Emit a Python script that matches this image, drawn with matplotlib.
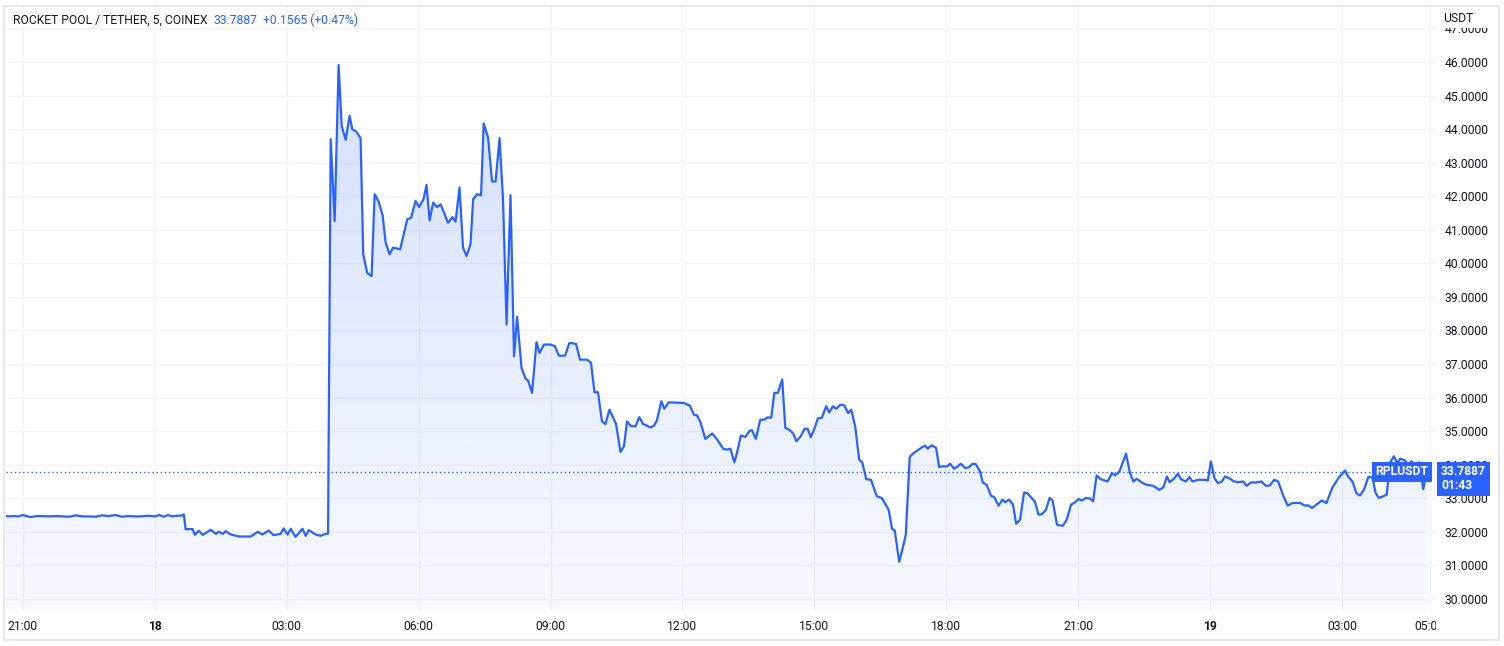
import matplotlib
matplotlib.use("Agg")
import matplotlib.pyplot as plt
import numpy as np
from matplotlib.patches import Rectangle
from matplotlib.transforms import blended_transform_factory, Bbox, TransformedBbox

# ---- data: time in hours since 17th 00:00, price in USDT ----
hours = [
    20.60, 20.70, 20.80, 20.90, 21.00, 21.10, 21.20, 21.30, 21.45, 21.60, 21.75, 21.90,
    22.05, 22.20, 22.35, 22.50, 22.65, 22.80, 22.95, 23.10, 23.25, 23.40, 23.55, 23.70,
    23.85, 24.00, 24.10, 24.20, 24.30, 24.40, 24.50, 24.60, 24.66,
    24.70, 24.86, 24.91, 25.00, 25.09, 25.27, 25.39, 25.45, 25.55, 25.61, 25.73, 25.91,
    26.18, 26.34, 26.45, 26.59, 26.70, 26.86, 26.93, 27.02, 27.09, 27.20, 27.36, 27.43,
    27.50, 27.66, 27.77, 27.84, 27.94,
    28.00, 28.09, 28.18, 28.25, 28.34, 28.43, 28.49, 28.59, 28.68, 28.74, 28.83, 28.93,
    29.00, 29.09, 29.18, 29.25, 29.34, 29.42, 29.58, 29.74, 29.83, 29.93, 30.01, 30.11,
    30.18, 30.25, 30.33, 30.42, 30.50, 30.67, 30.77, 30.84, 30.93, 31.01, 31.09, 31.18,
    31.24, 31.33, 31.42, 31.48, 31.58, 31.67, 31.75, 31.84, 31.92, 32.00, 32.09, 32.17,
    32.24, 32.34, 32.43, 32.49, 32.58, 32.68, 32.75, 32.85, 33.00, 33.10, 33.19, 33.33,
    33.43, 33.58, 33.67, 33.83, 33.92, 34.00, 34.08, 34.17, 34.25, 34.34, 34.42, 34.49,
    34.59, 34.67, 34.74, 34.82, 34.93, 35.02, 35.10, 35.27, 35.35, 35.42, 35.52, 35.59,
    35.69, 36.03, 36.17, 36.26, 36.33, 36.41, 36.52, 36.68, 36.79, 36.93, 37.02, 37.09,
    37.18, 37.24, 37.33, 37.43, 37.53, 37.58, 37.67, 37.77, 37.85, 37.94, 38.02, 38.09,
    38.17, 38.27, 38.34, 38.44, 38.52, 38.59, 38.68, 38.78, 38.85, 38.92, 39.01, 39.08,
    39.17, 39.27, 39.34, 39.42, 39.50, 39.59, 39.68, 39.77, 39.84, 39.93, 40.02, 40.09,
    40.18, 40.29, 40.33, 40.42, 40.54, 40.60, 40.69, 40.77, 40.83, 40.93, 41.01, 41.08,
    41.17, 41.26, 41.37, 41.45, 41.52, 41.58, 41.67, 41.77, 41.84, 41.90, 42.02, 42.09,
    42.18, 42.26, 42.33, 42.43, 42.51, 42.60, 42.67, 42.77, 42.83, 42.92, 43.02, 43.09,
    43.19, 43.28, 43.34, 43.43, 43.52, 43.59, 43.68, 43.77, 43.85, 43.93, 44.02, 44.10,
    44.18, 44.27, 44.35, 44.42, 44.52, 44.65, 44.74, 44.84, 44.93, 45.01, 45.08, 45.18,
    45.27, 45.34, 45.42, 45.51, 45.67, 45.77, 45.84, 45.94, 46.09, 46.18, 46.26, 46.33,
    46.45, 46.56, 46.71, 46.85, 46.94, 47.02, 47.08, 47.17, 47.27, 47.34, 47.45, 47.53,
    47.60, 47.73, 47.89, 47.95, 48.02, 48.10, 48.18, 48.27, 48.34, 48.43, 48.55, 48.64,
    48.76, 48.83, 48.93, 49.05, 49.17, 49.27, 49.36, 49.46, 49.55, 49.67, 49.77, 49.88,
    50.05, 50.16, 50.23, 50.32, 50.42, 50.54, 50.65, 50.78, 50.92, 51.07, 51.14, 51.24,
    51.33, 51.41, 51.50, 51.60, 51.69, 51.77, 51.84, 51.94, 52.02, 52.09, 52.18, 52.26,
    52.33, 52.43, 52.51, 52.58, 52.66, 52.76, 52.85, 52.93,
]
prices = [
    32.47, 32.46, 32.47, 32.46, 32.50, 32.46, 32.44, 32.47, 32.47, 32.46, 32.47, 32.46,
    32.45, 32.49, 32.46, 32.46, 32.45, 32.49, 32.47, 32.50, 32.45, 32.47, 32.46, 32.46,
    32.48, 32.46, 32.50, 32.45, 32.50, 32.46, 32.48, 32.48, 32.52,
    32.08, 32.08, 31.91, 32.03, 31.91, 32.06, 31.94, 32.00, 31.94, 32.02, 31.92, 31.86,
    31.86, 32.00, 31.92, 32.04, 31.90, 31.94, 32.10, 31.92, 32.09, 31.85, 32.09, 31.88,
    32.05, 31.92, 31.88, 31.92, 31.95,
    43.70, 41.26, 45.91, 44.10, 43.68, 44.40, 44.00, 43.92, 43.73, 40.27, 39.72, 39.62,
    42.06, 41.84, 41.44, 40.62, 40.27, 40.47, 40.42, 41.31, 41.36, 41.86, 41.68, 41.91,
    42.34, 41.28, 41.81, 41.68, 41.76, 41.21, 41.38, 41.24, 42.26, 40.47, 40.22, 40.57,
    41.91, 42.06, 42.03, 44.17, 43.75, 42.44, 42.44, 43.73, 41.91, 38.18, 42.03, 37.23,
    38.41, 36.89, 36.57, 36.51, 36.14, 37.65, 37.33, 37.58, 37.58, 37.53, 37.25, 37.25,
    37.63, 37.60, 37.13, 37.13, 37.04, 36.16, 36.16, 35.29, 35.21, 35.64, 35.42, 35.22,
    34.38, 34.55, 35.29, 35.16, 35.14, 35.42, 35.22, 35.11, 35.16, 35.32, 35.89, 35.67,
    35.86, 35.84, 35.76, 35.49, 35.47, 35.27, 34.77, 34.93, 34.75, 34.47, 34.45, 34.48,
    34.07, 34.35, 34.87, 34.83, 35.01, 35.03, 34.77, 35.34, 35.34, 35.41, 35.40, 36.14,
    36.14, 36.54, 35.10, 35.03, 34.93, 34.70, 34.83, 35.07, 35.07, 34.82, 35.10, 35.38,
    35.40, 35.74, 35.56, 35.74, 35.67, 35.79, 35.77, 35.54, 35.64, 35.14, 34.15, 34.07,
    33.57, 33.55, 33.40, 33.06, 33.00, 32.86, 32.66, 32.08, 32.04, 31.11, 31.51, 31.91,
    34.23, 34.35, 34.45, 34.52, 34.57, 34.48, 34.58, 34.50, 33.93, 33.95, 33.95, 34.03,
    33.88, 33.95, 34.03, 33.90, 33.92, 34.03, 34.02, 33.80, 33.47, 33.40, 33.07, 33.04,
    32.78, 32.96, 32.88, 32.96, 32.81, 32.24, 32.36, 33.17, 33.15, 33.03, 32.89, 32.51,
    32.53, 32.66, 33.01, 32.93, 32.21, 32.18, 32.36, 32.81, 32.88, 32.98, 32.93, 33.01,
    32.99, 32.91, 33.68, 33.57, 33.50, 33.75, 33.68, 33.80, 34.33, 33.75, 33.50, 33.58,
    33.47, 33.40, 33.37, 33.25, 33.33, 33.65, 33.48, 33.57, 33.73, 33.57, 33.50, 33.63,
    33.50, 33.55, 33.55, 33.53, 34.10, 33.60, 33.45, 33.50, 33.65, 33.60, 33.50, 33.48,
    33.50, 33.37, 33.47, 33.47, 33.50, 33.37, 33.38, 33.55, 33.50, 33.06, 32.78, 32.86,
    32.86, 32.78, 32.79, 32.71, 32.81, 32.93, 32.86, 33.31, 33.60, 33.83, 33.65, 33.50,
    33.15, 33.08, 33.25, 33.63, 33.63, 33.15, 33.01, 33.06, 33.11, 34.05, 34.25, 34.05,
    34.18, 34.13, 34.00, 34.10, 34.00, 34.07, 33.27, 33.7887,
]
tick_hours = [21, 24, 27, 30, 33, 36, 39, 42, 45, 48, 51, 53]
tick_labels = ["21:00", "18", "03:00", "06:00", "09:00", "12:00", "15:00", "18:00",
               "21:00", "19", "03:00", "05:00"]
price_ticks = list(range(30, 48))
last_price = 33.7887
title = "ROCKET POOL / TETHER, 5, COINEX"
change_text = "+0.1565 (+0.47%)"
symbol = "RPLUSDT"
countdown = "01:43"
currency = "USDT"

BLUE = "#2962ff"
TXT = "#131722"
GRID = "#f1f3f8"
FONT = "Roboto"
FS = 8.7

W, H = 1504, 646
fig = plt.figure(figsize=(W / 100, H / 100), dpi=100)
fig.patch.set_facecolor("white")

px_left, px_right, px_top, px_bottom = 6, 1436, 7, 610
ax = fig.add_axes([px_left / W, 1 - px_bottom / H, (px_right - px_left) / W,
                   (px_bottom - px_top) / H])
ax.set_facecolor("white")

t = np.array(hours)
p = np.array(prices)
xmin, xmax = 20.615, 53.14
ymin, ymax = 29.67, 47.64
ax.set_xlim(xmin, xmax)
ax.set_ylim(ymin, ymax)

# grid
for y in price_ticks:
    ax.axhline(y, color=GRID, lw=1, zorder=0)
for x in tick_hours:
    ax.axvline(x, color=GRID, lw=1, zorder=0)

# gradient fill under line
grad = np.zeros((256, 1, 4))
grad[:, 0, 0] = 41 / 255
grad[:, 0, 1] = 98 / 255
grad[:, 0, 2] = 1.0
grad[:, 0, 3] = np.linspace(0.20, 0.035, 256)
top = p.max()
im = ax.imshow(grad, aspect="auto", extent=[t[0], t[-1], ymin, top],
               origin="upper", zorder=1, interpolation="bilinear")
poly = ax.fill_between(t, p, ymin, facecolor="none", edgecolor="none")
im.set_clip_path(poly.get_paths()[0], transform=ax.transData)

ax.plot(t, p, color=BLUE, lw=1.6, zorder=3, solid_joinstyle="round")

# last price dotted line (ends at the symbol label)
ax.plot([xmin, t[-1] - 1.25], [last_price, last_price], color=BLUE, lw=1,
        ls=(0, (1, 2)), zorder=2)

for s in ax.spines.values():
    s.set_visible(False)

ax.yaxis.tick_right()
ax.set_yticks(price_ticks)
ax.set_yticklabels([f"{v:.4f}" for v in price_ticks], fontsize=FS,
                   color=TXT, fontfamily=FONT)
ax.tick_params(axis="y", length=0, pad=6)
ax.set_xticks(tick_hours)
ax.set_xticklabels(tick_labels, fontsize=FS, color=TXT, fontfamily=FONT)
ax.tick_params(axis="x", length=0, pad=7)
clip = TransformedBbox(Bbox([[0, 0], [px_right / W, 1]]), fig.transFigure)
for lbl in ax.get_xticklabels():
    if ":" not in lbl.get_text():
        lbl.set_fontweight("bold")
    lbl.set_clip_box(clip)
    lbl.set_clip_on(True)

# header
fig.text(13 / W, 1 - 20 / H, title, fontsize=FS, color=TXT, fontfamily=FONT,
         va="center", ha="left")
fig.text(213 / W, 1 - 20 / H, f"{last_price:.4f}", fontsize=FS, color=BLUE,
         fontfamily=FONT, va="center", ha="left")
fig.text(263 / W, 1 - 20 / H, change_text, fontsize=FS, color=BLUE,
         fontfamily=FONT, va="center", ha="left")

# currency label covering top tick
fig.patches.append(Rectangle((1438 / W, 1 - 28 / H), 58 / W, 21 / H,
                             transform=fig.transFigure, facecolor="white",
                             edgecolor="none", zorder=5))
fig.text(1443 / W, 1 - 18 / H, currency, fontsize=FS, color=TXT,
         fontfamily=FONT, va="center", ha="left", zorder=6)

# price label boxes
tr = blended_transform_factory(ax.transAxes, ax.transData)
ax.annotate(f"{last_price:.4f}\n{countdown}", xy=(1.0, last_price), xycoords=tr,
            xytext=(5, -7), textcoords="offset pixels", ha="left", va="center",
            fontsize=FS, color="white", fontweight="bold", fontfamily=FONT,
            linespacing=1.1, annotation_clip=False, zorder=10,
            bbox=dict(boxstyle="square,pad=0.3", fc=BLUE, ec="none"))
ax.annotate(symbol, xy=(1.0, last_price), xycoords=tr,
            xytext=(-8, 0), textcoords="offset pixels", ha="right", va="center",
            fontsize=FS, color="white", fontweight="bold", fontfamily=FONT,
            annotation_clip=False, zorder=10,
            bbox=dict(boxstyle="square,pad=0.3", fc=BLUE, ec="none"))

# outer frame
fig.patches.append(Rectangle((4 / W, 6 / H), (W - 9) / W, (H - 12) / H,
                             transform=fig.transFigure, facecolor="none",
                             edgecolor="#e6e8ee", lw=1.5, zorder=7))

fig.savefig("out.png", dpi=100, facecolor="white")
